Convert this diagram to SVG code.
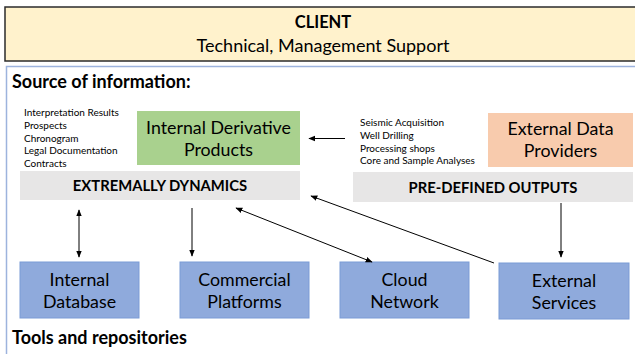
<svg xmlns="http://www.w3.org/2000/svg" width="635" height="354" viewBox="0 0 635 354">
<style>
text{font-family:Lato,"Open Sans","Liberation Sans",sans-serif;fill:#000}
.big{font-size:17.8px;text-anchor:middle}
.hd{font-size:18px;font-weight:bold}
.sm{font-size:10px}
.bold{font-size:14.8px;font-weight:bold;text-anchor:middle}
.blue{fill:#8FAADC;stroke:#7A9BD6;stroke-width:1}
.gray{fill:#E7E6E6}
.ln{stroke:#000;stroke-width:1;fill:none}
</style>
<defs>
<marker id="ah" viewBox="0 0 10 10" refX="9" refY="5" markerWidth="7" markerHeight="7" orient="auto-start-reverse" markerUnits="userSpaceOnUse">
<path d="M0,1 L10,5 L0,9 z" fill="#000"/>
</marker>
</defs>
<rect width="635" height="354" fill="#fff"/>
<g id="client">
<rect x="5" y="7" width="640" height="54" fill="#FFF2CC" stroke="#2b2b2b" stroke-width="1.5"/>
<text x="323" y="28" class="big" style="font-weight:bold;font-size:16.5px">CLIENT</text>
<text x="323" y="52" class="big" style="font-size:18px">Technical, Management Support</text>
</g>
<g id="container">
<rect x="6.5" y="66.5" width="640" height="300" fill="none" stroke="#9DB3DD" stroke-width="1.5"/>
<text x="12" y="88" class="hd">Source of information:</text>
<text x="12" y="344" class="hd">Tools and repositories</text>
</g>
<g id="internal-list">
<text class="sm" x="24" y="115.5">Interpretation Results</text>
<text class="sm" x="24" y="128.5">Prospects</text>
<text class="sm" x="24" y="141.5">Chronogram</text>
<text class="sm" x="24" y="153.5">Legal Documentation</text>
<text class="sm" x="24" y="166.5">Contracts</text>
</g>
<g id="internal-derivative">
<rect x="137" y="111" width="163" height="54" fill="#A9D18E"/>
<text class="big" x="218.5" y="134">Internal Derivative</text>
<text class="big" x="218.5" y="156">Products</text>
</g>
<g id="extremally-dynamics">
<rect x="20" y="171" width="280" height="29" class="gray"/>
<text class="bold" x="160" y="190.5">EXTREMALLY DYNAMICS</text>
</g>
<g id="external-list">
<text class="sm" x="360" y="125.5">Seismic Acquisition</text>
<text class="sm" x="360" y="138.5">Well Drilling</text>
<text class="sm" x="360" y="151.5">Processing shops</text>
<text class="sm" x="360" y="163.5">Core and Sample Analyses</text>
</g>
<g id="external-data-providers">
<rect x="488" y="113" width="145" height="54" fill="#F8CBAD"/>
<text class="big" x="560.5" y="135">External Data</text>
<text class="big" x="560.5" y="157">Providers</text>
</g>
<g id="pre-defined-outputs">
<rect x="353" y="172" width="280" height="30" class="gray"/>
<text class="bold" x="493" y="192.5">PRE-DEFINED OUTPUTS</text>
</g>
<g id="internal-database">
<rect x="20" y="262" width="119" height="56" class="blue"/>
<text class="big" x="79.5" y="286">Internal</text>
<text class="big" x="79.5" y="308">Database</text>
</g>
<g id="commercial-platforms">
<rect x="180" y="262" width="129" height="56" class="blue"/>
<text class="big" x="244.5" y="286">Commercial</text>
<text class="big" x="244.5" y="308">Platforms</text>
</g>
<g id="cloud-network">
<rect x="340" y="262" width="129" height="56" class="blue"/>
<text class="big" x="404.5" y="286">Cloud</text>
<text class="big" x="404.5" y="308">Network</text>
</g>
<g id="external-services">
<rect x="499" y="263" width="130" height="56" class="blue"/>
<text class="big" x="564" y="287">External</text>
<text class="big" x="564" y="309">Services</text>
</g>
<g id="connectors">
<line class="ln" x1="345" y1="138.5" x2="309" y2="138.5" marker-end="url(#ah)"/>
<line class="ln" x1="79" y1="210" x2="79" y2="257" marker-start="url(#ah)" marker-end="url(#ah)"/>
<line class="ln" x1="192" y1="208" x2="192" y2="256" marker-end="url(#ah)"/>
<line class="ln" x1="236" y1="208" x2="372" y2="262" marker-start="url(#ah)" marker-end="url(#ah)"/>
<line class="ln" x1="494" y1="263" x2="311" y2="196" marker-end="url(#ah)"/>
<line class="ln" x1="561" y1="203" x2="561" y2="257" marker-end="url(#ah)"/>
</g>
</svg>
